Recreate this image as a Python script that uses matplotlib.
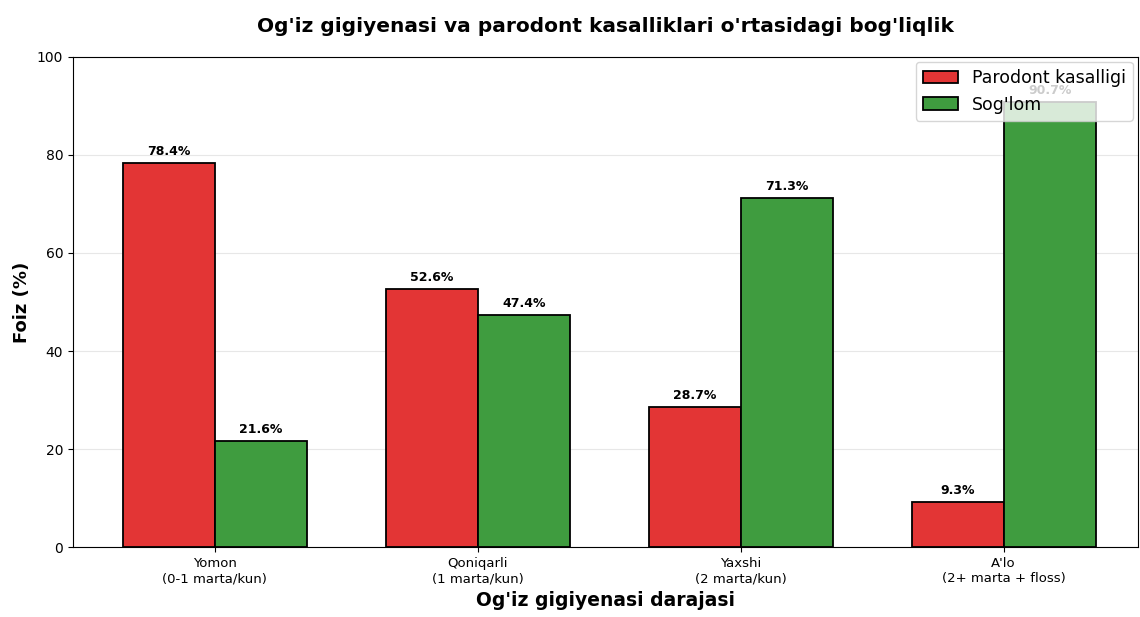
import numpy as np
import matplotlib
matplotlib.use("Agg")
import matplotlib.pyplot as plt

categories = ["Yomon\n(0-1 marta/kun)", "Qoniqarli\n(1 marta/kun)",
              "Yaxshi\n(2 marta/kun)", "A'lo\n(2+ marta + floss)"]
kasal = [78.4, 52.6, 28.7, 9.3]
soglom = [21.6, 47.4, 71.3, 90.7]

x = np.arange(len(categories))
width = 0.35

fig, ax = plt.subplots(figsize=(11.4, 6.17), dpi=100)

b1 = ax.bar(x - width / 2, kasal, width, label="Parodont kasalligi",
            color="#e33535", edgecolor="black", linewidth=1.3)
b2 = ax.bar(x + width / 2, soglom, width, label="Sog'lom",
            color="#3f9c3f", edgecolor="black", linewidth=1.3)

for bars in (b1, b2):
    for bar in bars:
        h = bar.get_height()
        ax.text(bar.get_x() + bar.get_width() / 2, h + 1, f"{h:.1f}%",
                ha="center", va="bottom", fontsize=9, fontweight="bold")

ax.set_ylim(0, 100)
ax.set_xlim(-0.54, 3.51)
ax.set_xticks(x)
ax.set_xticklabels(categories, fontsize=9.5)
ax.set_xlabel("Og'iz gigiyenasi darajasi", fontsize=13.5, fontweight="bold")
ax.set_ylabel("Foiz (%)", fontsize=13, fontweight="bold")
ax.set_title("Og'iz gigiyenasi va parodont kasalliklari o'rtasidagi bog'liqlik",
             fontsize=14.5, fontweight="bold", pad=18)
ax.grid(axis="y", alpha=0.3)
ax.set_axisbelow(True)
ax.legend(fontsize=12.5, loc="upper right", borderaxespad=0.3)

fig.subplots_adjust(left=0.064, right=0.998, top=0.908, bottom=0.113)
fig.savefig("out.png", dpi=100)
